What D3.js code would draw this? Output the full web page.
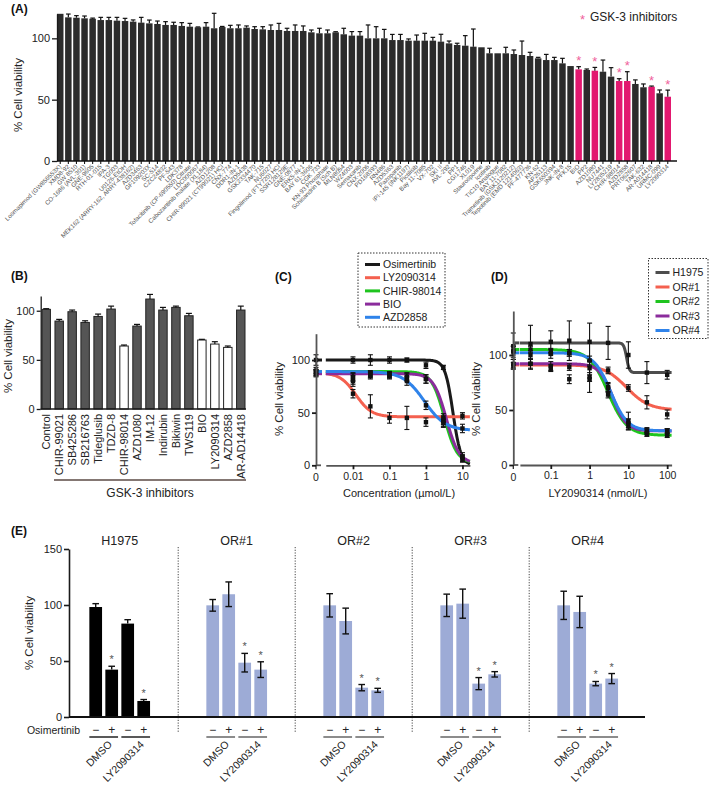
<!DOCTYPE html>
<html><head><meta charset="utf-8">
<script src="https://cdn.jsdelivr.net/npm/d3@7"></script>
<style>body{margin:0;background:#fff}svg{font-family:"Liberation Sans",Arial,Helvetica,sans-serif}</style>
</head><body>
<svg id="c" width="709" height="788"></svg>
<script>
// ---------- Panel A data ----------
const aDrugs = ["Losmapimod (GW856553X)","XMD8-92","GW 8510","CO-1686 (AVL-301)","GNE-9605","RTH-01-015","IPA-3","TG003","U0126-EtOH","MEK162 (ARRY-162, ARRY-438162)","AZD3463","GF109203X","SC-514","CZC24832","PF-543","LDK378","Tofacitinib (CP-690550) Citrate","LDC000067","Cabozantinib malate (XL184)","AZD1208","CHIR-99021 (CT99021) HCl","CNX-774","DDR1-IN-1","AZD5438","GSK2334470","TAK-715","NU6027","Fingolimod (FTY720) HCl","SSR128129E","GNE-0877","ERK5-IN-1","BAY 61-3606","CGK 733","KN-93 Phosphate","Schisandrin B (Sch B)","MLN8054","WZ4003","Semaxanib","CNX-2006","PD168393","RN486","AZD5363","Pazopanib","IPI-145 (INK1197)","Pictilisib","Bay 11-7085","VX-702","SKI II","AVL-292","PP1","CGI1746","XL019","Staurosporine","Icotinib","TIC10 Analogue","BAY 11-7082","Trametinib (GSK1120212)","Tepotinib (EMD 1214063)","PF-477736","KN-62","AP26113","GSK650394","JNK-IN-8","PFK15","BIO","PP2","AZD1080","NU7441","LY2835219","CHIR-98014","AZD2858","PRT062607","TAK-632","AR-A014418","URMC-099","LY2090314"];
const aValues = [120,117.1,116.8,116.3,116.0,114.9,114.9,114.4,114.1,113.6,112.8,112.2,111.7,110.9,110.9,110.1,109.5,109.0,109.5,108.2,109.2,108.2,108.2,108.7,107.6,107.3,106.8,106.8,106.0,106.0,106.0,104.9,104.1,104.1,104.9,103.3,102.2,102.2,100,100,100,98.6,98.6,98.1,98.1,98.1,98.1,97.3,95.9,94.6,94.0,93.2,92.7,87.8,87.8,87.8,87.2,86.4,85.6,83.7,82.3,82.3,79.6,77.4,74.7,74.2,73.6,72.8,68.8,65.2,65.2,62.8,60.1,60.6,55.2,52.4];
const aErrors = [0,2.7,1.7,1.9,0.5,2.2,2.2,2.7,2.2,1.4,4.3,2.7,2.4,2.7,2.2,2.7,2.7,0.3,3.3,12.2,0.5,2.4,2.7,1.4,1.9,2.2,4.1,5.4,2.2,4.9,4.1,1.9,4.1,2.7,0.5,4.9,3.3,3.3,10.9,9.5,7.3,4.6,4.6,1.4,4.6,6.0,2.7,6.0,1.9,1.4,8.2,14.4,0,4.1,0,4.9,3.3,11.4,3.0,0.8,4.6,2.2,4.1,0,2.2,0.8,2.7,9.5,7.3,1.9,7.6,3.3,2.7,0.5,2.7,5.4];
const aGSK = ["BIO","AZD1080","CHIR-98014","AZD2858","AR-A014418","LY2090314"];

// ---------- Panel B data ----------
const bDrugs = ["Control","CHIR-99021","SB425286","SB216763","Tideglusib","TDZD-8","CHIR-98014","AZD1080","IM-12","Indirubin","Bikiwin","TWS119","BIO","LY2090314","AZD2858","AR-AD14418"];
const bValues = [101.4,89.5,99.0,88.1,94.2,101.7,64.1,84.4,111.9,100.7,103.4,94.9,70.2,66.1,62.7,100.7];
const bErrors = [0.7,1.7,1.7,1.7,2.4,3.0,1.0,1.7,4.7,2.7,1.3,2.4,0.7,2.4,1.4,4.0];
const bHighlight = ["CHIR-98014","BIO","LY2090314","AZD2858"];

// ---------- Panel C data ----------
const cSeries = ["Osimertinib","LY2090314","CHIR-98014","BIO","AZD2858"];
const cColors = ["#1a1a1a","#f4604f","#1fc41f","#8b2c9c","#2f83ea"];
const cConc = [0,0.01,0.03,0.1,0.3,1,3,10];
const cValues = [[100,100,100,100,100,95,93,8],[88,68,56,45,45,41,42,47],[88,82,86,86,84,82,42,5],[87,80,85,85,84,82,45,8],[90,84,87,86,80,57,40,35]];
const cErrors = [[5,3,5,3,2,3,2,4],[3,4,11,5,11,4,3,3],[3,5,3,3,4,4,5,2],[3,5,3,3,3,4,4,2],[3,4,3,3,4,4,4,4]];
const cTop = [100,88,89,87,89], cBottom = [0,46,2,2,33], cIC50 = [5.5,0.012,3.2,3.6,0.9], cHill = [4,2,2.5,2.5,1.5];

// ---------- Panel D data ----------
const dSeries = ["H1975","OR#1","OR#2","OR#3","OR#4"];
const dColors = ["#4d4d4d","#f4604f","#1fc41f","#8b2c9c","#2f83ea"];
const dConc = [0,0.03,0.1,0.3,1,3,10,30,100];
const dValues = [[108,110,112,113,112,111,100,84,82],[92,92,90,89,88,86,70,57,46],[104,105,103,102,95,64,35,28,27],[90,92,88,78,78,70,38,31,30],[103,100,101,102,80,71,40,31,31]];
const dErrors = [[12,17,10,18,17,15,12,10,4],[4,5,4,3,6,3,3,6,4],[4,3,3,3,4,3,3,2,2],[3,4,3,4,12,4,4,3,3],[5,4,4,3,4,4,8,2,2]];
const dTop = [111,91,105,92,102], dBottom = [84,50,27,31,31], dIC50 = [9,9,3,4,3.5], dHill = [12,1.5,1.8,2.5,2];

// ---------- Panel E data ----------
const eGroups = ["H1975","OR#1","OR#2","OR#3","OR#4"];
const eConds = ["DMSO/−","DMSO/+","LY2090314/−","LY2090314/+"];
const eOsim = ["−","+","−","+"];
const ePairs = ["DMSO","LY2090314"];
const eValues = [[98.2,42.3,83.4,14.3],[99.7,109.6,48.5,42.3],[99.7,85.7,26.2,23.8],[99.7,101.2,29.8,38.1],[99.7,93.8,29.8,34.3]];
const eErrors = [[3,3,3.5,1.3],[5.2,11,8.3,7],[10.4,11.5,2.8,1.8],[10,13,5.4,2.4],[12.6,14,1.9,4.5]];
const eSig = [[0,1,0,1],[0,0,1,1],[0,0,1,1],[0,0,1,1],[0,0,1,1]];

// ---------- drawing ----------
const svg = d3.select("#c");
const TXT = "#222";
const pink = "#e2186f", starPink = "#ef5f9c";

function styleAxis(g, w){
  g.selectAll("path,line").attr("stroke","#1a1a1a").attr("stroke-width",w||1.2);
  g.selectAll("text").attr("fill",TXT).attr("font-size",11);
}
function panelLabel(t,x,y){
  svg.append("text").attr("x",x).attr("y",y).attr("font-size",12).attr("font-weight","bold").attr("fill","#111").text(t);
}
function yLabel(x,y,t){
  svg.append("text").attr("transform",`translate(${x},${y}) rotate(-90)`).attr("text-anchor","middle")
   .attr("font-size",11.5).attr("fill",TXT).text(t);
}

// ===== Panel A =====
(function(){
  const g = svg.append("g");
  const x = d3.scaleBand().domain(aDrugs).range([57,671]).paddingInner(0.2).paddingOuter(0);
  const y = d3.scaleLinear().domain([0,120]).range([161,13.8]);
  const bw = x.bandwidth();
  g.selectAll("rect").data(aDrugs).join("rect")
    .attr("x",d=>x(d)).attr("width",bw)
    .attr("y",(d,i)=>y(aValues[i])).attr("height",(d,i)=>y(0)-y(aValues[i]))
    .attr("fill",d=>aGSK.includes(d)?pink:"#2b2b2b");
  const eb = g.append("g").attr("stroke","#111").attr("stroke-width",1.2);
  aDrugs.forEach((d,i)=>{
    if(aErrors[i]<=0) return;
    const cx = x(d)+bw/2, t = y(aValues[i]+aErrors[i]);
    eb.append("line").attr("x1",cx).attr("x2",cx).attr("y1",y(aValues[i])).attr("y2",t);
    eb.append("line").attr("x1",cx-2.3).attr("x2",cx+2.3).attr("y1",t).attr("y2",t);
  });
  aDrugs.forEach((d,i)=>{
    if(!aGSK.includes(d)) return;
    g.append("text").attr("x",x(d)+bw/2).attr("y",y(aValues[i]+aErrors[i])-1.5).attr("text-anchor","middle")
      .attr("font-size",13).attr("fill",starPink).text("*");
  });
  const ya = g.append("g").attr("transform","translate(57,0)")
    .call(d3.axisLeft(y).tickValues([0,50,100]).tickSize(5).tickPadding(2).tickSizeOuter(0));
  styleAxis(ya,1.3);
  const xa = g.append("g").attr("transform","translate(0,161)")
    .call(d3.axisBottom(x).tickSize(3).tickSizeOuter(0).tickFormat(""));
  styleAxis(xa,1.1);
  xa.select(".domain").remove();
  g.append("line").attr("x1",57).attr("x2",677).attr("y1",161).attr("y2",161).attr("stroke","#111").attr("stroke-width",1.4);
  g.selectAll("text.lab").data(aDrugs).join("text").attr("class","lab")
    .attr("transform",d=>`translate(${x(d)+bw/2+1.5},${167}) rotate(-45)`)
    .attr("text-anchor","end").attr("font-size",6.2).attr("fill","#555").text(d=>d);
  yLabel(22,95,"% Cell viability");
  panelLabel("(A)",11,13);
  g.append("text").attr("x",580).attr("y",24).attr("font-size",13).attr("fill",starPink).text("*");
  g.append("text").attr("x",590).attr("y",21).attr("font-size",12).attr("fill",TXT).text("GSK-3 inhibitors");
})();

// ===== Panel B =====
(function(){
  const g = svg.append("g");
  const x = d3.scaleBand().domain(bDrugs).range([40.7,246.3]).paddingInner(0.35).paddingOuter(0.1);
  const y = d3.scaleLinear().domain([0,115]).range([409,296]);
  const bw = x.bandwidth();
  g.selectAll("rect").data(bDrugs).join("rect")
    .attr("x",d=>x(d)).attr("width",bw)
    .attr("y",(d,i)=>y(bValues[i])).attr("height",(d,i)=>y(0)-y(bValues[i]))
    .attr("fill",d=>bHighlight.includes(d)?"#fff":"#555").attr("stroke","#222").attr("stroke-width",1);
  const eb = g.append("g").attr("stroke","#111").attr("stroke-width",1.2);
  bDrugs.forEach((d,i)=>{
    const cx = x(d)+bw/2, t = y(bValues[i]+bErrors[i]);
    eb.append("line").attr("x1",cx).attr("x2",cx).attr("y1",y(bValues[i])).attr("y2",t);
    eb.append("line").attr("x1",cx-3).attr("x2",cx+3).attr("y1",t).attr("y2",t);
  });
  const ya = g.append("g").attr("transform","translate(40.7,0)")
    .call(d3.axisLeft(y).tickValues([0,50,100]).tickSize(4).tickPadding(2).tickSizeOuter(0));
  styleAxis(ya,1.3);
  g.append("line").attr("x1",40.7).attr("x2",246).attr("y1",409).attr("y2",409).attr("stroke","#1a1a1a").attr("stroke-width",1.3);
  g.selectAll("text.lab").data(bDrugs).join("text").attr("class","lab")
    .attr("transform",d=>`translate(${x(d)+bw/2+4},${414}) rotate(-90)`)
    .attr("text-anchor","end").attr("font-size",11).attr("fill",TXT).text(d=>d);
  const x1 = x(bDrugs[1])-1, x2 = x(bDrugs[bDrugs.length-1])+bw+1;
  g.append("line").attr("x1",x1).attr("x2",x2).attr("y1",480).attr("y2",480).attr("stroke","#5b4a44").attr("stroke-width",1.5);
  g.append("text").attr("x",(x1+x2)/2).attr("y",497).attr("text-anchor","middle").attr("font-size",12).attr("fill",TXT).text("GSK-3 inhibitors");
  yLabel(12,356,"% Cell viability");
  panelLabel("(B)",11,280);
})();

// ===== dose response panels =====
function drawDose(o){
  const g = svg.append("g");
  const x = d3.scaleLog().domain(o.xDomain).range(o.xRange);
  const y = d3.scaleLinear().domain(o.yDomain).range(o.yRange);
  const X = c => c===0 ? o.x0 : x(c);
  // legend box
  const lg = g.append("g");
  lg.append("rect").attr("x",o.leg[0]).attr("y",o.leg[1]).attr("width",o.leg[2]).attr("height",o.leg[3])
    .attr("fill","#fff").attr("stroke","#333").attr("stroke-width",1).attr("stroke-dasharray","1.5,1.5");
  o.series.forEach((s,i)=>{
    const ly = o.leg[1]+o.legFirst+i*o.legStep;
    lg.append("line").attr("x1",o.leg[0]+7).attr("x2",o.leg[0]+7+o.sw).attr("y1",ly).attr("y2",ly).attr("stroke",o.colors[i]).attr("stroke-width",3);
    lg.append("text").attr("x",o.leg[0]+10+o.sw).attr("y",ly+3.6).attr("font-size",10.5).attr("fill",TXT).text(s);
  });
  // curves
  const lx = d3.range(0,201).map(k=>Math.exp(Math.log(o.xDomain[0])+k/200*(Math.log(o.xDomain[1])-Math.log(o.xDomain[0]))));
  const line = d3.line().x(d=>x(d[0])).y(d=>y(d[1]));
  o.series.forEach((s,i)=>{
    const f = c => o.bottom[i]+(o.top[i]-o.bottom[i])/(1+Math.pow(c/o.ic50[i],o.hill[i]));
    g.append("path").datum(lx.map(c=>[c,f(c)])).attr("d",line).attr("fill","none")
      .attr("stroke",o.colors[i]).attr("stroke-width",3);
    g.append("line").attr("x1",o.x0+1).attr("x2",o.x0+6).attr("y1",y(o.top[i])).attr("y2",y(o.top[i]))
      .attr("stroke",o.colors[i]).attr("stroke-width",3);
  });
  // points
  const pg = g.append("g").attr("stroke","#111").attr("stroke-width",1.1);
  o.series.forEach((s,i)=>{
    o.conc.forEach((c,j)=>{
      const cx = X(c), v = o.values[i][j], e = o.errors[i][j];
      pg.append("line").attr("x1",cx).attr("x2",cx).attr("y1",y(v-e)).attr("y2",y(v+e));
      pg.append("line").attr("x1",cx-2.5).attr("x2",cx+2.5).attr("y1",y(v-e)).attr("y2",y(v-e));
      pg.append("line").attr("x1",cx-2.5).attr("x2",cx+2.5).attr("y1",y(v+e)).attr("y2",y(v+e));
      g.append("rect").attr("x",cx-2.2).attr("y",y(v)-2.2).attr("width",4.4).attr("height",4.4).attr("fill","#111");
    });
  });
  // axes
  const ya = g.append("g").attr("transform",`translate(${o.x0},0)`)
    .call(d3.axisLeft(y).tickValues([0,50,100]).tickSize(4).tickPadding(2).tickSizeOuter(0));
  styleAxis(ya,1.8); ya.select(".domain").attr("stroke","#555");
  const xa = g.append("g").attr("transform",`translate(0,${o.yRange[0]})`)
    .call(d3.axisBottom(x).tickValues(o.ticks).tickFormat(d=>String(d)).tickSize(4).tickSizeOuter(0));
  styleAxis(xa,1.8); xa.select(".domain").attr("stroke","#555");
  xa.selectAll("text").attr("font-size",10.5);
  g.append("line").attr("x1",o.x0).attr("x2",o.x0+5).attr("y1",o.yRange[0]).attr("y2",o.yRange[0]).attr("stroke","#555").attr("stroke-width",1.8);
  g.append("line").attr("x1",o.x0).attr("x2",o.x0).attr("y1",o.yRange[0]).attr("y2",o.yRange[0]+4).attr("stroke","#1a1a1a").attr("stroke-width",1.2);
  g.append("text").attr("x",o.x0).attr("y",o.yRange[0]+16).attr("text-anchor","middle").attr("font-size",10.5).attr("fill",TXT).text("0");
  g.append("text").attr("x",o.titleX).attr("y",497).attr("text-anchor","middle").attr("font-size",11).attr("fill",TXT).text(o.title);
  yLabel(o.x0-33,399,"% Cell viability");
  panelLabel(o.label,o.labelX,281);
}

drawDose({series:cSeries,colors:cColors,conc:cConc,values:cValues,errors:cErrors,top:cTop,bottom:cBottom,ic50:cIC50,hill:cHill,
  xDomain:[0.0018,16],xRange:[325.8,469.9],x0:316,yDomain:[0,125],yRange:[465.3,333.7],ticks:[0.01,0.1,1,10],
  leg:[358,253,87,74],legFirst:11.5,legStep:13.2,sw:15,title:"Concentration (µmol/L)",titleX:399,label:"(C)",labelX:275});
drawDose({series:dSeries,colors:dColors,conc:dConc,values:dValues,errors:dErrors,top:dTop,bottom:dBottom,ic50:dIC50,hill:dHill,
  xDomain:[0.016,130],xRange:[519.9,671.6],x0:513.3,yDomain:[0,140],yRange:[465,311],ticks:[0.1,1,10,100],
  leg:[648.5,258.5,59.5,80],legFirst:14,legStep:14.5,sw:14,title:"LY2090314 (nmol/L)",titleX:598,label:"(D)",labelX:491});

// ===== Panel E =====
(function(){
  const g = svg.append("g");
  const gx = d3.scaleBand().domain(eGroups).range([61.2,646.2]);
  const ix = d3.scaleBand().domain(eConds).range([-32,32]).paddingInner(0.206).paddingOuter(0.103);
  const y = d3.scaleLinear().domain([0,150]).range([717,549]);
  const bw = ix.bandwidth();
  eGroups.forEach((grp,gi)=>{
    const c = gx(grp)+gx.bandwidth()/2;
    const col = gi===0 ? "#000" : "#9dabd6";
    eConds.forEach((k,j)=>{
      const v = eValues[gi][j], e = eErrors[gi][j];
      const bx = c+ix(k);
      g.append("rect").attr("x",bx).attr("width",bw).attr("y",y(v)).attr("height",y(0)-y(v)).attr("fill",col);
      const cx = bx+bw/2;
      const lo = gi===0 ? y(v) : y(v-e);
      g.append("line").attr("x1",cx).attr("x2",cx).attr("y1",lo).attr("y2",y(v+e)).attr("stroke","#111").attr("stroke-width",1.4);
      g.append("line").attr("x1",cx-3.3).attr("x2",cx+3.3).attr("y1",y(v+e)).attr("y2",y(v+e)).attr("stroke","#111").attr("stroke-width",1.4);
      if(gi>0) g.append("line").attr("x1",cx-3.3).attr("x2",cx+3.3).attr("y1",y(v-e)).attr("y2",y(v-e)).attr("stroke","#111").attr("stroke-width",1.4);
      if(eSig[gi][j]) g.append("text").attr("x",cx).attr("y",y(v+e)-3).attr("text-anchor","middle").attr("font-size",11).attr("fill","#555").text("*");
      g.append("text").attr("x",cx).attr("y",734).attr("text-anchor","middle").attr("font-size",12).attr("fill",TXT).text(eOsim[j]);
    });
    ePairs.forEach((p,pi)=>{
      const a = c+ix(eConds[pi*2]), b = c+ix(eConds[pi*2+1])+bw;
      g.append("line").attr("x1",a).attr("x2",b).attr("y1",737).attr("y2",737).attr("stroke",gi===0?"#222":"#666").attr("stroke-width",1.5);
      g.append("text").attr("transform",`translate(${(a+b)/2+9},${745}) rotate(-45)`).attr("text-anchor","end")
        .attr("font-size",10.5).attr("fill",TXT).text(p);
    });
    g.append("text").attr("x",c).attr("y",545).attr("text-anchor","middle").attr("font-size",12.5).attr("fill",TXT).text(grp);
    if(gi>0){
      const sx = gx(grp);
      g.append("line").attr("x1",sx).attr("x2",sx).attr("y1",547).attr("y2",732).attr("stroke","#444").attr("stroke-width",1).attr("stroke-dasharray","1.2,1.5");
    }
  });
  const ya = g.append("g").attr("transform","translate(69,0)")
    .call(d3.axisLeft(y).tickValues([0,50,100,150]).tickSize(5).tickPadding(2).tickSizeOuter(0));
  styleAxis(ya,1.6);
  g.append("line").attr("x1",69).attr("x2",645).attr("y1",717).attr("y2",717).attr("stroke","#111").attr("stroke-width",2);
  g.append("text").attr("x",80).attr("y",734).attr("text-anchor","end").attr("font-size",10.5).attr("fill",TXT).text("Osimertinib");
  yLabel(33,633,"% Cell viability");
  panelLabel("(E)",11,535);
})();
</script>
</body></html>
